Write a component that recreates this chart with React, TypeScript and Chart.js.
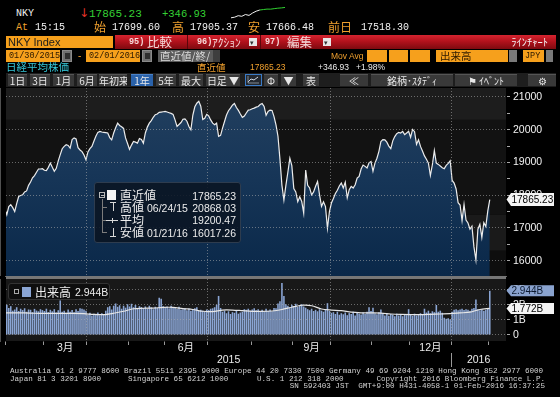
import React, { useEffect, useRef } from "react";
import { Chart, registerables } from "chart.js";

Chart.register(...registerables);

// ---------------- data ----------------
// Nikkei 225 closes, one per trading session, 01/30/2015 .. 02/01/2016
const closes: number[] = [
  17580, 17400, 17650, 17710, 17620, 17500, 17740, 17960, 17990, 18010,
  18100, 18130, 18300, 18400, 18530, 18600, 18700, 18800, 18800, 18810,
  18760, 18750, 18850, 18980, 18850, 18730, 18820, 19050, 19240, 19420,
  19490, 19540, 19520, 19440, 19700, 19750, 19720, 19450, 19380, 19330,
  19230, 19080, 19320, 19420, 19490, 19650, 19800, 19920, 19950, 19930,
  19920, 19910, 19900, 19760, 19690, 19900, 20060, 20200, 20130, 20090,
  20040, 19750, 19580, 19400, 19530, 19640, 19620, 19590, 19730, 19700,
  19590, 19900, 20080, 20200, 20280, 20380, 20460, 20480, 20530, 20540,
  20550, 20560, 20540, 20520, 20500, 20470, 20300, 20100, 20160, 20220,
  20320, 20330, 20260, 20100, 20000, 20450, 20700, 20810, 20868, 20720,
  20310, 20350, 20470, 20420, 20300, 20200, 20150, 20200, 19800, 19830,
  20050, 20250, 20450, 20580, 20660, 20750, 20800, 20680, 20590, 20480,
  20380, 20420, 20510, 20600, 20610, 20640, 20660, 20690, 20710, 20770,
  20800, 20710, 20440, 20560, 20600, 20590, 20400, 20150, 19800, 19100,
  18300, 17850, 18300, 18700, 19130, 18900, 18200, 18100, 17800, 17950,
  17810, 17450, 18770, 18300, 18220, 18010, 18100, 18270, 18420, 18010,
  17660, 17800, 17650, 16990, 17500, 17760, 17900, 18050, 18150, 18280,
  18370, 18220, 18400, 17920, 18170, 18270, 18220, 18320, 18520, 18570,
  18800, 18920, 18880, 18830, 18990, 19030, 18730, 18980, 19130, 19340,
  19640, 19700, 19690, 19620, 19500, 19420, 19660, 19790, 19880, 19920,
  19900, 19950, 19850, 19900, 19950, 19770, 20010, 19940, 19550, 19690,
  19490, 19350, 19200, 19100, 18980, 18600, 18930, 19360, 18980, 18940,
  18890, 18840, 18810, 18910, 18970, 19050, 18450, 18370, 18190, 17770,
  17700, 17220, 17720, 17240, 17150, 16960, 17050, 16420, 16020, 16960,
  17110, 16710, 17160, 17040, 17520, 17865.23,
];

// volume per session, billions of shares
const volumes: number[] = [
  1.95, 2.02, 1.8, 1.92, 1.62, 1.7, 1.85, 1.6, 1.75, 1.66,
  1.78, 1.55, 1.7, 1.68, 1.52, 1.74, 1.63, 1.58, 1.72, 1.66,
  1.6, 1.75, 1.52, 1.68, 1.58, 1.72, 1.5, 1.65, 2.3, 1.55,
  1.62, 1.48, 1.7, 1.55, 1.66, 1.52, 1.72, 1.6, 1.78, 1.75,
  1.7, 1.62, 1.35, 1.48, 1.3, 1.42, 1.38, 1.5, 1.32, 1.45,
  1.4, 1.62, 1.85, 1.92, 1.7, 1.95, 2.1, 1.88, 1.98, 1.75,
  1.95, 1.82, 2.05, 1.9, 2.08, 1.85, 2.0, 1.78, 1.92, 1.86,
  1.8, 1.9, 1.76, 1.95, 1.84, 1.72, 1.88, 1.8, 2.48, 2.42,
  1.92, 1.85, 1.9, 1.78, 1.95, 1.82, 1.8, 1.75, 1.88, 1.7,
  1.72, 1.8, 1.65, 1.76, 1.62, 1.7, 1.78, 1.85, 1.6, 1.68,
  1.62, 1.55, 1.7, 1.66, 1.75, 1.78, 1.85, 2.02, 2.6, 1.8,
  1.55, 1.62, 1.45, 1.58, 1.4, 1.52, 1.48, 1.6, 1.42, 1.5,
  1.55, 1.72, 1.68, 1.75, 1.62, 1.7, 1.78, 1.65, 1.72, 1.6,
  1.68, 1.55, 1.75, 1.62, 1.7, 1.58, 1.8, 1.78, 2.1, 2.25,
  3.47, 2.6, 2.05, 1.95, 1.85, 2.02, 1.92, 2.08, 1.88, 1.96,
  2.05, 1.9, 1.82, 1.72, 1.65, 1.75, 1.6, 1.68, 1.58, 1.72,
  1.62, 1.55, 1.7, 2.12, 1.6, 1.48, 1.52, 1.4, 1.55, 1.35,
  1.45, 1.38, 1.5, 1.32, 1.46, 1.4, 1.55, 1.3, 1.48, 1.42,
  1.36, 1.5, 1.4, 1.55, 1.85, 1.6, 1.82, 1.45, 1.38, 1.52,
  1.7, 1.42, 1.3, 1.45, 1.28, 1.4, 1.35, 1.25, 1.42, 1.3,
  1.38, 1.25, 1.4, 1.32, 1.72, 1.35, 1.28, 1.42, 1.3, 1.38,
  1.45, 1.35, 1.75, 1.5, 1.62, 1.45, 1.58, 1.52, 2.0, 1.55,
  1.62, 1.48, 1.15, 1.08, 1.12, 1.05, 1.55, 1.68, 1.72, 1.65,
  1.7, 1.75, 1.66, 1.72, 1.68, 1.62, 1.74, 1.8, 2.36, 1.72,
  1.65, 1.7, 1.62, 1.68, 1.75, 2.944,
];

// volume moving average, read every 5 sessions
const volumeMA: number[] = [
  1.47, 1.47, 1.47, 1.45, 1.44, 1.44, 1.44, 1.44, 1.42, 1.37,
  1.36, 1.45, 1.58, 1.75, 1.78, 1.79, 1.84, 1.84, 1.76, 1.7,
  1.58, 1.56, 1.66, 1.66, 1.62, 1.58, 1.57, 1.6, 1.7, 1.85,
  1.98, 1.95, 1.73, 1.66, 1.62, 1.52, 1.48, 1.47, 1.46, 1.4,
  1.37, 1.36, 1.36, 1.38, 1.4, 1.42, 1.47, 1.52, 1.7, 1.772,
];
const MA_STEP = 5;

// calendar: session index of the first trading day of each month
const monthFirstSession = [1, 20, 42, 63, 81, 103, 125, 146, 165, 186, 205, 226, 245];
const monthNames = ["2月", "3月", "4月", "5月", "6月", "7月", "8月", "9月", "10月", "11月", "12月", "1月", "2月"];
const quarterStartMonths = ["4月", "7月", "10月", "1月"];
const labeledMonths = ["3月", "6月", "9月", "12月"];
const yearNames = ["2015", "2016"];
const yearFirstSession = [0, 226];

const priceTicks = [16000, 17000, 18000, 19000, 20000, 21000];
const volumeTicks = [0, 1, 2, 3];

// header intraday sparkline
const sparkline = [17540, 17560, 17610, 17590, 17650, 17620, 17700, 17760, 17800, 17815, 17830, 17828, 17845, 17860, 17870, 17885];
const SPARK_SPLIT = 8;

const legendRows = [
  { name: "直近値", date: "", value: "17865.23" },
  { name: "高値", date: "06/24/15", value: "20868.03" },
  { name: "平均", date: "", value: "19200.47" },
  { name: "安値", date: "01/21/16", value: "16017.26" },
];

// ---------------- layout / style constants ----------------
const X_MIN = 0.6;
const X_MAX = 253.2;
const PRICE_MIN = 15530;
const PRICE_MAX = 21275;
const VOL_MIN = -0.4;
const VOL_MAX = 3.73;

const MONO = "'Liberation Mono','DejaVu Sans Mono',monospace";
const SANS = "'Liberation Sans',Arial,'Noto Sans CJK JP',sans-serif";
const CJK = "'Noto Sans CJK JP','Liberation Sans',sans-serif";
const ORANGE = "#f6a01c";
const ORANGE_TXT = "#f0a02e";
const GRID = "rgba(175,175,175,0.55)";

const monthBounds = monthFirstSession.map((s) => s - 0.5);
const quarterBounds = monthBounds.filter((_, k) => quarterStartMonths.includes(monthNames[k]));
const labelCenters = labeledMonths.map((m) => {
  const k = monthNames.indexOf(m);
  return (monthBounds[k] + monthBounds[k + 1]) / 2;
});
const yearBoundary = yearFirstSession[1] - 0.5;
const yearCenters = [(X_MIN + yearBoundary) / 2, (yearBoundary + X_MAX) / 2];
const priceTickValues = priceTicks.flatMap((v, i) => (i < priceTicks.length - 1 ? [v, v + 500] : [v]));

Chart.defaults.font.family = SANS;

const fixBox = (w?: number, h?: number) => (s: any) => {
  if (w !== undefined) s.width = w;
  if (h !== undefined) s.height = h;
  s.paddingLeft = 0;
  s.paddingRight = 0;
  s.paddingTop = 0;
  s.paddingBottom = 0;
};

function drawTag(ctx: CanvasRenderingContext2D, x0: number, y: number, text: string, bg: string, fg: string, h: number) {
  ctx.save();
  ctx.beginPath();
  ctx.moveTo(x0 + 0.5, y);
  ctx.lineTo(x0 + 5, y - h / 2);
  ctx.lineTo(x0 + 48, y - h / 2);
  ctx.lineTo(x0 + 48, y + h / 2);
  ctx.lineTo(x0 + 5, y + h / 2);
  ctx.closePath();
  ctx.fillStyle = bg;
  ctx.fill();
  ctx.fillStyle = fg;
  ctx.font = "10px " + SANS;
  ctx.textBaseline = "middle";
  ctx.textAlign = "left";
  ctx.fillText(text, x0 + 5.5, y + 0.5);
  ctx.restore();
}

// ---------------- small html helpers ----------------
function T(p: { x?: number; right?: number; y: number; s: number; c: string; f?: string; bold?: boolean; children: any }) {
  const h = Math.round(p.s * 1.3);
  const st: any = {
    position: "absolute",
    top: p.y - h / 2,
    height: h,
    lineHeight: h + "px",
    fontSize: p.s,
    color: p.c,
    fontFamily: p.f || SANS,
    whiteSpace: "pre",
    fontWeight: p.bold ? 700 : 400,
  };
  if (p.right !== undefined) st.right = p.right;
  else st.left = p.x;
  return <div style={st}>{p.children}</div>;
}

function B(p: { x: number; y: number; w: number; h: number; bg: string; border?: string; radius?: number; children?: any }) {
  return (
    <div
      style={{
        position: "absolute",
        left: p.x,
        top: p.y,
        width: p.w,
        height: p.h,
        background: p.bg,
        border: p.border,
        borderRadius: p.radius,
        boxSizing: "border-box",
      }}
    >
      {p.children}
    </div>
  );
}

const buttons: { x: number; w: number; label: string; active?: boolean }[] = [
  { x: 8, w: 19, label: "1日" },
  { x: 30, w: 20, label: "3日" },
  { x: 53, w: 21, label: "1月" },
  { x: 77, w: 20, label: "6月" },
  { x: 99, w: 28, label: "年初来" },
  { x: 131, w: 22, label: "1年", active: true },
  { x: 156, w: 20, label: "5年" },
  { x: 179, w: 24, label: "最大" },
  { x: 206, w: 34, label: "日足 ▼" },
  { x: 264, w: 14, label: "Φ" },
  { x: 281, w: 15, label: "▼" },
  { x: 303, w: 16, label: "表" },
  { x: 340, w: 28, label: "≪" },
  { x: 371, w: 82, label: "銘柄･ｽﾀﾃﾞｨ" },
  { x: 455, w: 62, label: "⚑ ｲﾍﾞﾝﾄ" },
  { x: 528, w: 28, label: "⚙" },
];

export default function App() {
  const priceRef = useRef<HTMLCanvasElement>(null);
  const volRef = useRef<HTMLCanvasElement>(null);
  const sparkRef = useRef<HTMLCanvasElement>(null);

  useEffect(() => {
    const charts: Chart[] = [];
    const n = closes.length;

    // ---------- price chart ----------
    const priceBackdrop = {
      id: "priceBackdrop",
      beforeDraw(chart: any) {
        const { ctx, chartArea: a, scales } = chart;
        const y = scales.y;
        const bands: [number, number, string][] = [
          [PRICE_MAX, 20300, "#1d1d1d"],
          [20300, 17400, "#121212"],
          [17400, 16300, "#1a1a1a"],
          [16300, PRICE_MIN, "#0e0e0e"],
        ];
        ctx.save();
        bands.forEach(([hi, lo, col]) => {
          const y1 = y.getPixelForValue(hi);
          const y2 = y.getPixelForValue(lo);
          ctx.fillStyle = col;
          ctx.fillRect(a.left, y1, a.right - a.left, y2 - y1);
        });
        ctx.restore();
      },
    };
    const priceTag = {
      id: "priceTag",
      afterDraw(chart: any) {
        const y = chart.scales.y.getPixelForValue(closes[n - 1]);
        drawTag(chart.ctx, chart.chartArea.right, y, closes[n - 1].toFixed(2), "#f4f4f4", "#000", 13);
      },
    };

    charts.push(
      new Chart(priceRef.current as HTMLCanvasElement, {
        type: "line",
        data: {
          datasets: [
            {
              data: closes.map((v, i) => ({ x: i, y: v })),
              borderColor: "#ececec",
              borderWidth: 1.2,
              pointRadius: 0,
              tension: 0,
              fill: "start",
              backgroundColor: (c: any) => {
                const a = c.chart.chartArea;
                if (!a) return "#15355a";
                const g = c.chart.ctx.createLinearGradient(0, a.top, 0, a.bottom);
                g.addColorStop(0, "#23405f");
                g.addColorStop(0.45, "#173658");
                g.addColorStop(1, "#0a2849");
                return g;
              },
            },
          ],
        },
        options: {
          animation: false,
          responsive: false,
          maintainAspectRatio: false,
          layout: { padding: { left: 6, top: 0, right: 0, bottom: 0 } },
          plugins: { legend: { display: false }, tooltip: { enabled: false } },
          scales: {
            x: {
              type: "linear",
              min: X_MIN,
              max: X_MAX,
              offset: false,
              afterBuildTicks: (s: any) => {
                s.ticks = quarterBounds.map((v) => ({ value: v }));
              },
              ticks: { display: false },
              grid: { color: GRID, drawTicks: false, z: 1, offset: false },
              border: { display: false, dash: [1, 2] },
              afterFit: fixBox(undefined, 0),
            },
            y: {
              type: "linear",
              position: "right",
              min: PRICE_MIN,
              max: PRICE_MAX,
              afterBuildTicks: (s: any) => {
                s.ticks = priceTickValues.map((v) => ({ value: v }));
              },
              ticks: {
                color: "#f2f2f2",
                font: { size: 10.5, family: SANS },
                padding: 3,
                autoSkip: false,
                callback: (v: any) => (priceTicks.includes(v) ? String(v) : ""),
              },
              grid: {
                color: (c: any) => (c.tick && priceTicks.includes(c.tick.value) ? GRID : "rgba(0,0,0,0)"),
                tickColor: "#a8a8a8",
                tickLength: 4,
                z: 1,
              },
              border: { display: true, color: "#a0a0a0", dash: [1, 2] },
              afterFit: fixBox(54),
            },
          },
        } as any,
        plugins: [priceBackdrop, priceTag],
      })
    );

    // ---------- volume chart ----------
    const volBackdrop = {
      id: "volBackdrop",
      beforeDraw(chart: any) {
        const { ctx, chartArea: a } = chart;
        ctx.save();
        ctx.fillStyle = "#181818";
        ctx.fillRect(a.left, a.top, a.right - a.left, a.bottom - a.top);
        ctx.restore();
      },
    };
    const volTags = {
      id: "volTags",
      afterDraw(chart: any) {
        const { ctx, chartArea: a, scales } = chart;
        const ys = scales.y;
        const lastVol = volumes[volumes.length - 1];
        const lastMA = volumeMA[volumeMA.length - 1];
        drawTag(ctx, a.right, ys.getPixelForValue(lastVol), lastVol.toFixed(3) + "B", "#8aa3cf", "#0c1a30", 11);
        drawTag(ctx, a.right, ys.getPixelForValue(lastMA), lastMA.toFixed(3) + "B", "#f4f4f4", "#000", 11);
        // year separator on the calendar axis
        const xs = scales.x;
        const xb = Math.round(xs.getPixelForValue(yearBoundary)) + 0.5;
        ctx.save();
        ctx.strokeStyle = "#9a9a9a";
        ctx.lineWidth = 1;
        ctx.beginPath();
        ctx.moveTo(xb, scales.xm.bottom - 1);
        ctx.lineTo(xb, scales.xy.bottom);
        ctx.stroke();
        ctx.restore();
      },
    };

    const calendarAxis = (ticks: number[], labels: string[], weight: number, h: number) => ({
      type: "linear",
      position: "bottom",
      min: X_MIN,
      max: X_MAX,
      offset: false,
      weight,
      afterBuildTicks: (s: any) => {
        s.ticks = ticks.map((v) => ({ value: v }));
      },
      ticks: {
        color: "#ececec",
        font: { size: 10.5, family: SANS },
        padding: 0,
        autoSkip: false,
        maxRotation: 0,
        minRotation: 0,
        callback: (_v: any, i: number) => labels[i],
      },
      grid: { display: false, drawTicks: false, offset: false },
      border: { display: false },
      afterFit: fixBox(undefined, h),
    });

    charts.push(
      new Chart(volRef.current as HTMLCanvasElement, {
        type: "bar",
        data: {
          datasets: [
            {
              type: "line",
              data: volumeMA.map((v, k) => ({ x: k * MA_STEP, y: v })),
              borderColor: "#e6e6e6",
              borderWidth: 1.2,
              pointRadius: 0,
              tension: 0.3,
              order: 0,
            },
            {
              type: "bar",
              data: volumes.map((v, i) => ({ x: i, y: v })),
              backgroundColor: "#8aa5d4",
              barPercentage: 0.8,
              categoryPercentage: 1,
              order: 1,
            },
          ],
        },
        options: {
          animation: false,
          responsive: false,
          maintainAspectRatio: false,
          layout: { padding: { left: 6, top: 3, right: 0, bottom: 0 } },
          plugins: { legend: { display: false }, tooltip: { enabled: false } },
          scales: {
            x: {
              type: "linear",
              position: "bottom",
              min: X_MIN,
              max: X_MAX,
              offset: false,
              weight: 0,
              afterBuildTicks: (s: any) => {
                s.ticks = monthBounds.map((v) => ({ value: v }));
              },
              ticks: { display: true, callback: () => "", autoSkip: false, maxRotation: 0 },
              grid: {
                color: (c: any) => (c.tick && quarterBounds.includes(c.tick.value) ? GRID : "rgba(0,0,0,0)"),
                tickColor: "#9a9a9a",
                tickLength: 4,
                drawTicks: true,
                offset: false,
                z: 1,
              },
              border: { display: true, color: "#8c8c8c", width: 1.5, dash: [1, 2] },
              afterFit: fixBox(undefined, 1),
            },
            xm: calendarAxis(labelCenters, labeledMonths, 1, 12),
            xy: calendarAxis(yearCenters, yearNames, 2, 13),
            y: {
              type: "linear",
              position: "right",
              min: VOL_MIN,
              max: VOL_MAX,
              afterBuildTicks: (s: any) => {
                s.ticks = volumeTicks.map((v) => ({ value: v }));
              },
              ticks: {
                color: "#f2f2f2",
                font: { size: 10.5, family: SANS },
                padding: 3,
                autoSkip: false,
                callback: (v: any) => (v === 0 ? "0" : v + "B"),
              },
              grid: { color: GRID, tickColor: "#a8a8a8", tickLength: 4, z: 1 },
              border: { display: true, color: "#a0a0a0", dash: [1, 2] },
              afterFit: fixBox(54),
            },
          },
        } as any,
        plugins: [volBackdrop, volTags],
      })
    );

    // ---------- header sparkline ----------
    charts.push(
      new Chart(sparkRef.current as HTMLCanvasElement, {
        type: "line",
        data: {
          labels: sparkline.map((_, i) => String(i)),
          datasets: [
            {
              data: sparkline,
              borderWidth: 1,
              pointRadius: 0,
              borderColor: "#f0f0f0",
              segment: {
                borderColor: (c: any) => (c.p0DataIndex < SPARK_SPLIT ? "#f0f0f0" : "#30d030"),
              },
            },
          ],
        },
        options: {
          animation: false,
          responsive: false,
          layout: { padding: 1 },
          plugins: { legend: { display: false }, tooltip: { enabled: false } },
          scales: { x: { display: false }, y: { display: false } },
        } as any,
      })
    );

    return () => charts.forEach((c) => c.destroy());
  }, []);

  const redTxt = "#f6dada";

  return (
    <div style={{ position: "relative", width: 560, height: 397, background: "#000", overflow: "hidden", fontFamily: SANS }}>
      <style>{`html,body{margin:0;padding:0;background:#000;}`}</style>

      {/* row 1 */}
      <T x={16} y={13.5} s={10} c="#f2f2f2" f={MONO}>NKY</T>
      <T x={79} y={13} s={12} c="#e33228" f="'DejaVu Sans',sans-serif">↓</T>
      <T x={89} y={13.5} s={11} c="#35d235" f={MONO}>17865.23</T>
      <T x={162} y={13.5} s={10.5} c="#35d235" f={MONO}>+346.93</T>
      <canvas ref={sparkRef} width={56} height={17} style={{ position: "absolute", left: 230, top: 3, width: 56, height: 17 }} />

      {/* row 2 */}
      <T x={16} y={27.5} s={10} c={ORANGE_TXT} f={MONO}>At</T>
      <T x={35} y={27.5} s={10} c="#f2f2f2" f={MONO}>15:15</T>
      <T x={94} y={27} s={12} c={ORANGE_TXT} f={CJK}>始</T>
      <T x={112} y={27.5} s={10} c="#f2f2f2" f={MONO}>17699.60</T>
      <T x={172} y={27} s={12} c={ORANGE_TXT} f={CJK}>高</T>
      <T x={190} y={27.5} s={10} c="#f2f2f2" f={MONO}>17905.37</T>
      <T x={248} y={27} s={12} c={ORANGE_TXT} f={CJK}>安</T>
      <T x={266} y={27.5} s={10} c="#f2f2f2" f={MONO}>17666.48</T>
      <T x={328} y={27} s={12} c={ORANGE_TXT} f={CJK}>前日</T>
      <T x={361} y={27.5} s={10} c="#f2f2f2" f={MONO}>17518.30</T>

      {/* row 3 */}
      <B x={6} y={36} w={107} h={12} bg={ORANGE} />
      <T x={8} y={42} s={11} c="#1c1c1c">NKY Index</T>
      <div
        style={{
          position: "absolute",
          left: 115,
          top: 35,
          width: 441,
          height: 14,
          background: "linear-gradient(#d52430 0%, #b3121c 45%, #7e0a10 100%)",
        }}
      />
      <B x={187} y={35} w={1} h={14} bg="#5a060a" />
      <B x={260} y={35} w={1} h={14} bg="#5a060a" />
      <T x={129} y={42} s={8.5} c={redTxt} f={MONO} bold>95)</T>
      <T x={147} y={42} s={12.5} c={redTxt} f={CJK}>比較</T>
      <T x={197} y={42} s={8.5} c={redTxt} f={MONO} bold>96)</T>
      <T x={212} y={42} s={11.5} c={redTxt} f={CJK}>ｱｸｼｮﾝ</T>
      <B x={249} y={38} w={8} h={8} bg="#e8e8e8">
        <T x={1} y={4} s={7} c="#333">▾</T>
      </B>
      <T x={265} y={42} s={8.5} c={redTxt} f={MONO} bold>97)</T>
      <T x={287} y={42} s={12.5} c={redTxt} f={CJK}>編集</T>
      <B x={323} y={38} w={8} h={8} bg="#e8e8e8">
        <T x={1} y={4} s={7} c="#333">▾</T>
      </B>
      <T right={12} y={42} s={10.5} c="#f4f4f4" f={CJK}>ﾗｲﾝﾁｬｰﾄ</T>

      {/* row 4 */}
      <B x={6} y={50} w={54} h={12} bg={ORANGE} />
      <T x={9} y={56} s={8.5} c="#2a1800" f={MONO}>01/30/2015</T>
      <B x={62} y={50} w={10} h={12} bg="#6e6e6e" border="1px solid #8a8a8a">
        <B x={1.5} y={2} w={5} h={6} bg="#2e2e2e" />
      </B>
      <T x={78} y={55.5} s={10} c={ORANGE_TXT}>-</T>
      <B x={86} y={50} w={54} h={12} bg={ORANGE} />
      <T x={89} y={56} s={8.5} c="#2a1800" f={MONO}>02/01/2016</T>
      <B x={142} y={50} w={10} h={12} bg="#6e6e6e" border="1px solid #8a8a8a">
        <B x={1.5} y={2} w={5} h={6} bg="#2e2e2e" />
      </B>
      <B x={158} y={50} w={55} h={12} bg="#5b5b5b" />
      <T x={160} y={56} s={10.5} c="#dcdcdc" f={CJK}>直近値/終/</T>
      <B x={213} y={50} w={7} h={12} bg="#3e3e3e" />
      <T x={331} y={56} s={8.5} c={ORANGE_TXT}>Mov Avg</T>
      <B x={367} y={50} w={20} h={12} bg={ORANGE} />
      <B x={389} y={50} w={19} h={12} bg={ORANGE} />
      <B x={410} y={50} w={20} h={12} bg={ORANGE} />
      <B x={436} y={50} w={72} h={12} bg={ORANGE} />
      <T x={440} y={56} s={10.5} c="#2a1800" f={CJK}>出来高</T>
      <B x={509} y={50} w={8} h={12} bg="#7a7a7a" />
      <B x={523} y={50} w={21} h={12} bg={ORANGE} />
      <T x={525} y={56} s={8.5} c="#2a1800" f={MONO}>JPY</T>
      <B x={546} y={50} w={7} h={12} bg="#7a7a7a" />

      {/* row 5 */}
      <T x={6} y={67} s={10.5} c="#36c8d9" f={CJK}>日経平均株価</T>
      <T x={197} y={67} s={9.5} c={ORANGE_TXT} f={CJK}>直近値</T>
      <T x={250} y={67} s={8.5} c={ORANGE_TXT}>17865.23</T>
      <T x={318} y={67} s={8.5} c="#ececec">+346.93</T>
      <T x={356} y={67} s={8.5} c="#ececec">+1.98%</T>

      {/* row 6 */}
      <B x={6} y={73} w={550} h={14} bg="#1e1e1e" />
      {buttons.map((b, i) => (
        <div
          key={i}
          style={{
            position: "absolute",
            left: b.x,
            top: 74,
            width: b.w,
            height: 12,
            background: b.active ? "#2a62aa" : "#393939",
            borderTop: "1px solid " + (b.active ? "#4a82c8" : "#555"),
            boxSizing: "border-box",
            color: "#e8e8e8",
            fontFamily: CJK,
            fontSize: 10,
            lineHeight: "11px",
            textAlign: "center",
            whiteSpace: "pre",
            overflow: "hidden",
          }}
        >
          {b.label}
        </div>
      ))}
      <div
        style={{
          position: "absolute",
          left: 245,
          top: 74,
          width: 17,
          height: 12,
          border: "1px solid #3b7bc6",
          background: "#23282f",
          boxSizing: "border-box",
        }}
      >
        <svg width="15" height="10" style={{ position: "absolute", left: 0, top: 0 }}>
          <polyline points="2,7 5,4 8,5 12,2" fill="none" stroke="#cfd8e4" strokeWidth="1" />
          <polyline points="2,1 2,8 13,8" fill="none" stroke="#9aa4b0" strokeWidth="0.8" />
        </svg>
      </div>

      {/* charts */}
      <canvas ref={priceRef} width={560} height={188} style={{ position: "absolute", left: 0, top: 88, width: 560, height: 188 }} />
      <canvas ref={volRef} width={560} height={91} style={{ position: "absolute", left: 0, top: 276, width: 560, height: 91 }} />
      <B x={6} y={276} w={500} h={3} bg="#767676" />

      {/* price legend box */}
      <B x={94} y={182} w={147} h={61} bg="rgba(10,20,34,0.88)" border="1px solid #2e3c4e" radius={3} />
      <B x={99} y={192} w={6} h={6} bg="transparent" border="1px solid #b8b8b8" />
      <B x={100.5} y={194.5} w={3} h={1} bg="#b8b8b8" />
      <B x={101.5} y={199} w={1} h={33} bg="#7c7c7c" />
      <B x={102} y={207} w={5} h={1} bg="#7c7c7c" />
      <B x={102} y={220} w={4} h={1} bg="#7c7c7c" />
      <B x={102} y={232} w={5} h={1} bg="#7c7c7c" />
      <B x={107} y={190} w={9} h={10} bg="#f4f4f4" />
      {/* high icon */}
      <B x={110} y={202} w={6} h={1} bg="#d8d8d8" />
      <B x={112.5} y={202} w={1} h={9} bg="#d8d8d8" />
      {/* average icon */}
      <B x={106} y={220} w={12} h={1} bg="#d8d8d8" />
      <B x={111.5} y={218} w={1} h={5} bg="#d8d8d8" />
      {/* low icon */}
      <B x={112.5} y={228} w={1} h={9} bg="#d8d8d8" />
      <B x={110} y={236} w={6} h={1} bg="#d8d8d8" />
      {legendRows.map((r, i) => {
        const cy = 195 + i * 12.4;
        return (
          <React.Fragment key={i}>
            <T x={120} y={cy} s={12} c="#ececec" f={CJK}>{r.name}</T>
            {r.date ? <T x={147} y={cy + 0.5} s={10.5} c="#ececec">{r.date}</T> : null}
            <T right={560 - 236} y={cy + 0.5} s={10.5} c="#ececec">{r.value}</T>
          </React.Fragment>
        );
      })}

      {/* volume legend box */}
      <B x={8} y={283} w={102} h={17} bg="#0e0e0e" border="1px solid #333" radius={3} />
      <B x={14} y={289} w={5} h={5} bg="transparent" border="1px solid #aaa" />
      <B x={22} y={287} w={9} h={10} bg="#8aa5d4" />
      <T x={35} y={292} s={12} c="#ececec" f={CJK}>出来高</T>
      <T x={75} y={292} s={10.5} c="#ececec">2.944B</T>

      {/* footer */}
      <T x={10} y={371} s={7.6} c="#d2d2d2" f={MONO}>
        Australia 61 2 9777 8600 Brazil 5511 2395 9000 Europe 44 20 7330 7500 Germany 49 69 9204 1210 Hong Kong 852 2977 6000
      </T>
      <T x={10} y={378.5} s={7.6} c="#d2d2d2" f={MONO}>Japan 81 3 3201 8900</T>
      <T x={128} y={378.5} s={7.6} c="#d2d2d2" f={MONO}>Singapore 65 6212 1000</T>
      <T x={257} y={378.5} s={7.6} c="#d2d2d2" f={MONO}>U.S. 1 212 318 2000</T>
      <T right={560 - 545} y={378.5} s={7.6} c="#d2d2d2" f={MONO}>Copyright 2016 Bloomberg Finance L.P.</T>
      <T right={560 - 545} y={386} s={7.6} c="#d2d2d2" f={MONO}>SN 592403 JST  GMT+9:00 H431-4058-1 01-Feb-2016 16:37:25</T>
    </div>
  );
}
